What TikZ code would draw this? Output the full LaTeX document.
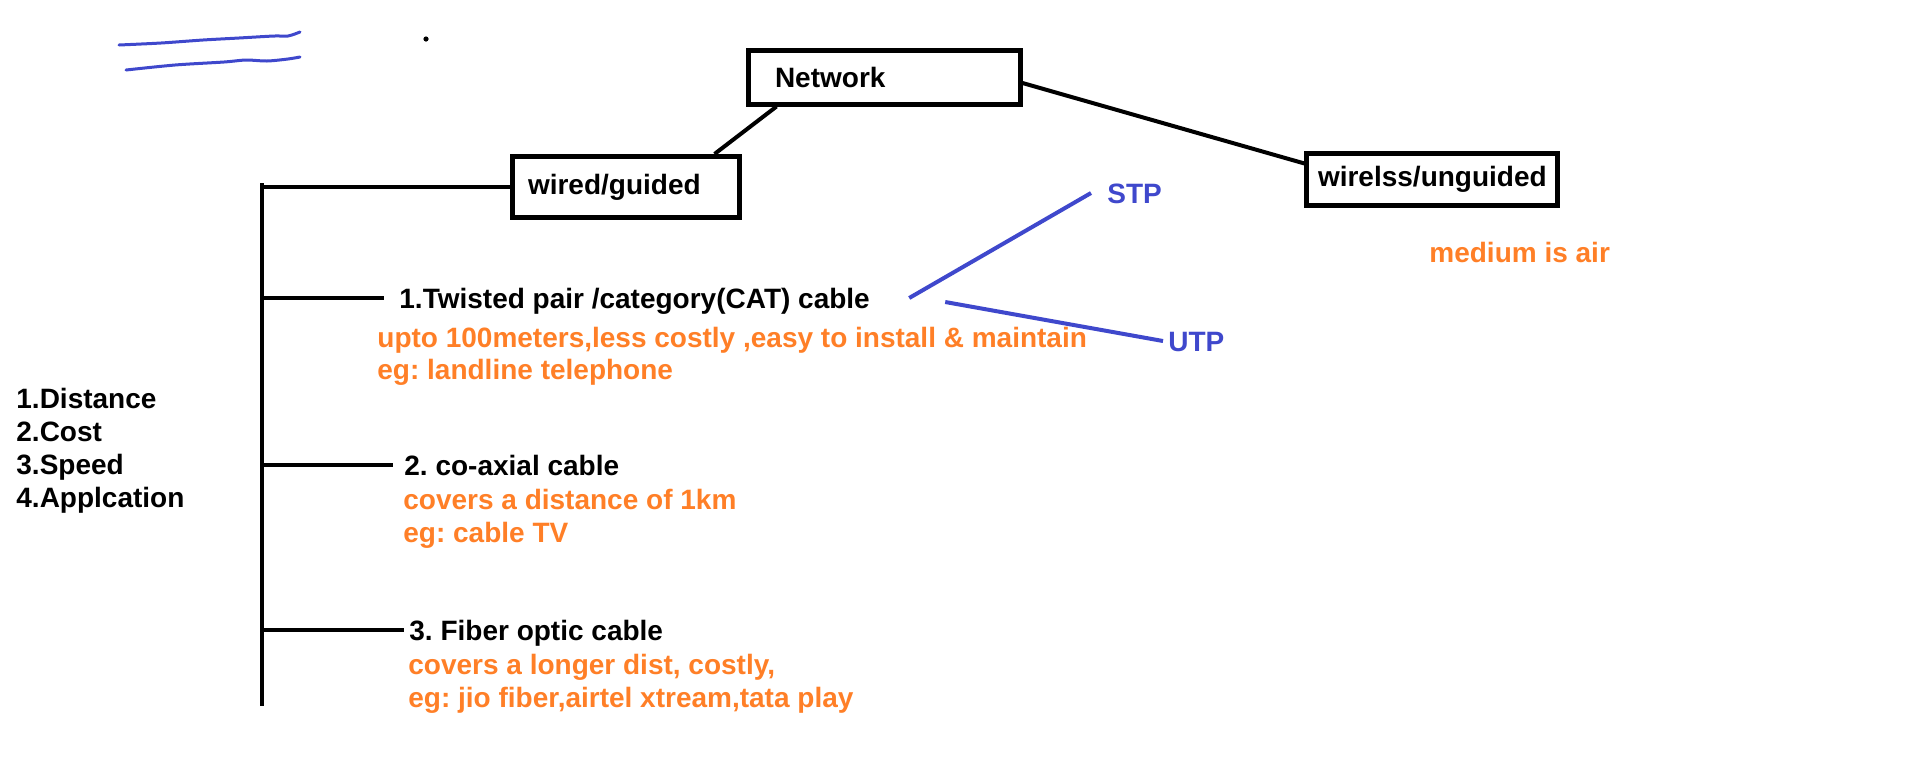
\documentclass[tikz,border=0pt]{standalone}
\usepackage{fontspec}
\setmainfont{Liberation Sans}
\frenchspacing
\definecolor{paintblue}{HTML}{3F48CC}
\definecolor{paintorange}{HTML}{FF7F27}
\begin{document}
\begin{tikzpicture}[x=0.5pt,y=-0.5pt,
  every node/.style={font=\fontsize{14pt}{16pt}\selectfont\bfseries},
  boxnode/.style={draw, line width=2.5pt, align=left, minimum height=27pt, inner ysep=0pt},
  lbl/.style={anchor=west, inner sep=0pt, text height=10pt, text depth=0pt},
  note/.style={lbl, text=paintorange},
  bluelbl/.style={lbl, text=paintblue},
  conn/.style={line width=2pt},
  blueconn/.style={line width=2pt, paintblue}]
\useasboundingbox (0,0) rectangle (1914,773);

% scribbles at top left
\draw[paintblue, line width=1.5pt, line cap=round] plot[smooth] coordinates {(119,45) (161,43) (203,40) (239,38) (274,36) (288,36) (300,32)};
\draw[paintblue, line width=1.5pt, line cap=round] plot[smooth] coordinates {(126,70) (175,65) (224,62) (246,60) (267,61) (288,59) (300,57)};
\fill (426,39) circle (1.3pt);

% boxes
\node[boxnode, text width=109pt, inner xsep=13.5pt, minimum height=27pt] (net) at (884,77) {Network};
\node[boxnode, text width=98pt, inner xsep=7.75pt, minimum height=30.5pt] (wired) at (626,187) {wired/guided};
\node[boxnode, text width=114pt, inner xsep=5.75pt, minimum height=26pt] (wls) at (1432,179.5) {wirelss/unguided};

\draw[conn] ([xshift=15.5pt]net.south west) -- ([xshift=102.25pt]wired.north west);
\draw[conn] ([yshift=-3pt]net.east) -- ([xshift=2pt,yshift=7.5pt]wls.west);

\node[note] (air) at (1429,252) {medium is air};

% spine
\coordinate (top) at (262,183);
\coordinate (bot) at (262,706);
\draw[conn] (top) -- (bot);
\draw[conn] (wired.west) -- (wired.west -| top);

% branch 1
\node[lbl] (t1) at (399,298) {1.Twisted pair /category(CAT) cable};
\node[note] (t1a) at (377,337) {upto 100meters,less costly ,easy to install \& maintain};
\node[note] (t1b) at (377,369) {eg: landline telephone};
\draw[conn] (t1.west -| top) -- ([xshift=-7.5pt]t1.west);

\node[bluelbl] (stp) at (1107,193) {STP};
\node[bluelbl] (utp) at (1168,341) {UTP};
\draw[blueconn] ([xshift=19.5pt]t1.east) -- ([xshift=-8pt]stp.west);
\draw[blueconn] ([xshift=37.5pt,yshift=-2pt]t1.east) -- ([xshift=-2.5pt]utp.west);

% branch 2
\node[lbl] (t2) at (404,465) {2. co-axial cable};
\node[note] (t2a) at (403,499) {covers a distance of 1km};
\node[note] (t2b) at (403,532) {eg: cable TV};
\draw[conn] (t2.west -| top) -- ([xshift=-5.5pt]t2.west);

% branch 3
\node[lbl] (t3) at (409,630) {3. Fiber optic cable};
\node[note] (t3a) at (408,664) {covers a longer dist, costly,};
\node[note] (t3b) at (408,697) {eg: jio fiber,airtel xtream,tata play};
\draw[conn] (t3.west -| top) -- ([xshift=-2.5pt]t3.west);

% factors list
\node[lbl] (p1) at (16,398) {1.Distance};
\node[lbl] (p2) at (16,431) {2.Cost};
\node[lbl] (p3) at (16,464) {3.Speed};
\node[lbl] (p4) at (16,497) {4.Applcation};
\end{tikzpicture}
\end{document}
